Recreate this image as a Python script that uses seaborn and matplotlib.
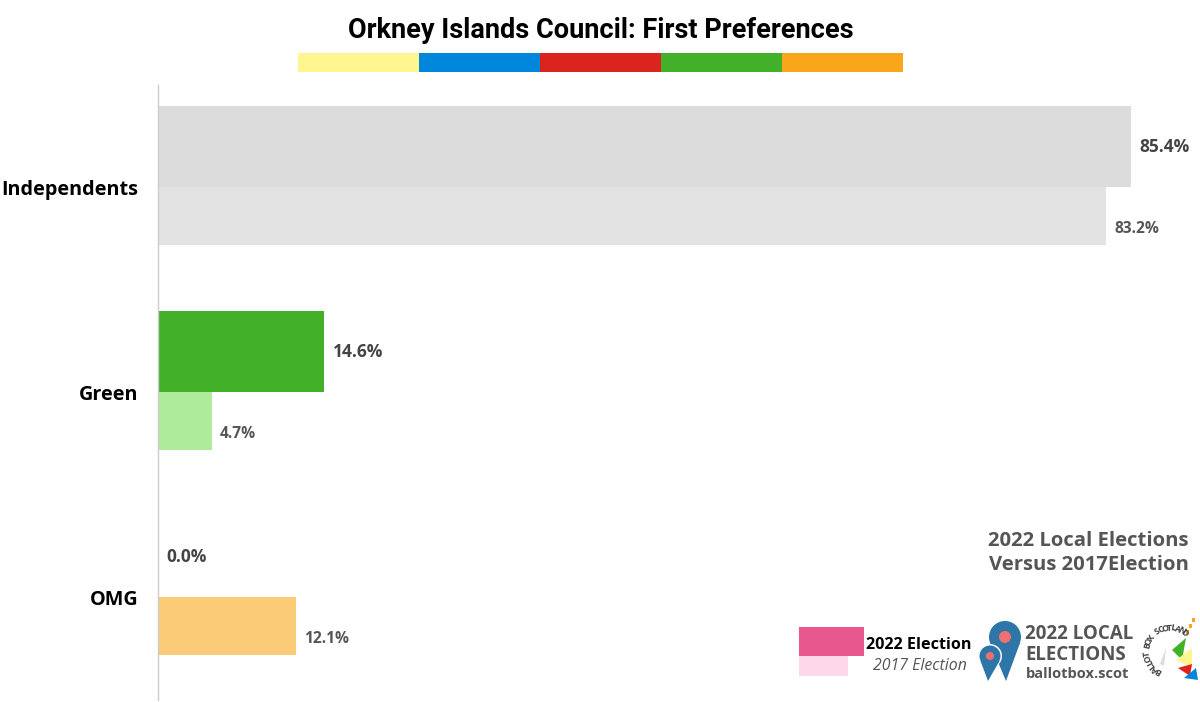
import numpy as np
import pandas as pd
import matplotlib
matplotlib.use("Agg")
import matplotlib.pyplot as plt
import seaborn as sns
from matplotlib.patches import Rectangle, Circle, Polygon

# ---------------- data ----------------
categories = ["Independents", "Green", "OMG"]
votes_2022 = [85.4, 14.6, 0.0]
votes_2017 = [83.2, 4.7, 12.1]
colors_2022 = ["#dcdcdc", "#43b02a", "#faa61a"]
colors_2017 = ["#e3e3e3", "#aeeb9a", "#fccb77"]
strip_colors = ["#fff68f", "#0087dc", "#dc241f", "#43b02a", "#faa61a"]
title = "Orkney Islands Council: First Preferences"

sns.set_theme(style="white")
plt.rcParams['font.family'] = ['Open Sans', 'DejaVu Sans']

W, H = 1200, 702
fig = plt.figure(figsize=(12, 7.02), dpi=100)
fig.patch.set_facecolor("white")
ax = fig.add_axes([158 / W, 1 - 700 / H, (1183 - 158) / W, (700 - 85) / H])

idx = np.arange(len(categories))
pos22 = idx - 0.198
pos17 = idx + 0.141

df22 = pd.DataFrame({"party": categories, "share": votes_2022, "pos": pos22})
df17 = pd.DataFrame({"party": categories, "share": votes_2017, "pos": pos17})

sns.barplot(data=df22, x="share", y="pos", hue="party",
            palette=dict(zip(categories, colors_2022)), orient="h",
            native_scale=True, width=0.395, dodge=False, legend=False,
            errorbar=None, saturation=1, linewidth=0, ax=ax)
sns.barplot(data=df17, x="share", y="pos", hue="party",
            palette=dict(zip(categories, colors_2017)), orient="h",
            native_scale=True, width=0.283, dodge=False, legend=False,
            errorbar=None, saturation=1, linewidth=0, ax=ax)

ax.set_xlim(0, 90)
ax.set_ylim(2.5, -0.5)
ax.set_xticks([])
ax.set_yticks(idx)
ax.set_yticklabels(categories, fontsize=14.3, fontweight="bold", color="black")
ax.tick_params(axis="y", length=0, pad=14)
ax.set_xlabel("")
ax.set_ylabel("")
for s in ["top", "right", "bottom"]:
    ax.spines[s].set_visible(False)
ax.spines["left"].set_color("#cccccc")
ax.spines["left"].set_linewidth(1)

for v, p in zip(votes_2022, pos22):
    ax.text(v + 0.75, p, f"{v:.1f}%", va="center", ha="left",
            fontsize=12.5, fontweight="bold", color="#444444")
for v, p in zip(votes_2017, pos17):
    ax.text(v + 0.75, p + 0.063, f"{v:.1f}%", va="center", ha="left",
            fontsize=11.2, fontweight="bold", color="#555555")

# ---------------- decorations (overlay in pixel coords) ----------------
ov = fig.add_axes([0, 0, 1, 1], zorder=10)
ov.set_xlim(0, W)
ov.set_ylim(H, 0)
ov.axis("off")
ov.patch.set_alpha(0)

ov.text(601, 30, title, ha="center", va="center", fontsize=19.5,
        fontweight="bold", color="black", family=["Roboto", "DejaVu Sans"])
for i, c in enumerate(strip_colors):
    ov.add_patch(Rectangle((298 + i * 121, 53), 121, 19, color=c, lw=0))

ov.text(1189, 541, "2022 Local Elections", ha="right", va="center",
        fontsize=14.6, fontweight="bold", color="#555555")
ov.text(1189, 565, "Versus 2017Election", ha="right", va="center",
        fontsize=14.6, fontweight="bold", color="#555555")

# legend
ov.add_patch(Rectangle((799, 627), 65, 29, color="#e8578d", lw=0))
ov.add_patch(Rectangle((799, 656), 49, 20, color="#fdd8ea", lw=0))
ov.text(866, 645, "2022 Election", ha="left", va="center", fontsize=11.6,
        fontweight="bold", color="black")
ov.text(967, 666, "2017 Election", ha="right", va="center", fontsize=11.4,
        style="italic", color="#555555")

# pins logo
blue = "#2e75a8"
ov.add_patch(Circle((1005, 637), 16, color=blue, lw=0))
ov.add_patch(Polygon([(990, 643), (1020, 643), (1006, 681)], color=blue, lw=0))
ov.add_patch(Circle((990, 656), 12, color="white", lw=0))
ov.add_patch(Circle((990, 656), 10.5, color=blue, lw=0))
ov.add_patch(Polygon([(980.5, 661), (999.5, 661), (988, 681)], color=blue, lw=0))
ov.add_patch(Circle((1005, 637), 6, color="#f07070", lw=0))
ov.add_patch(Circle((990, 656), 4, color="#f07070", lw=0))
ov.text(1025, 634, "2022 LOCAL", ha="left", va="center", fontsize=13.5,
        fontweight="bold", color="#555555")
ov.text(1025, 655, "ELECTIONS", ha="left", va="center", fontsize=13.5,
        fontweight="bold", color="#555555")
ov.text(1026, 674, "ballotbox.scot", ha="left", va="center", fontsize=10.5,
        fontweight="bold", color="#555555")

# circular ballot box logo
cx, cy, r = 1170, 651, 23
txt = "BALLOT BOX SCOTLAND"
angs = np.linspace(240, 50, len(txt))
for ch, a in zip(txt, angs):
    rad = np.deg2rad(a)
    x = cx + r * np.cos(rad)
    y = cy - r * np.sin(rad)
    ov.text(x, y, ch, ha="center", va="center", fontsize=6.3,
            fontweight="bold", color="#444444", rotation=a - 90)
ov.add_patch(Polygon([(1172, 650), (1186, 638), (1182, 660)], color="#43b02a", lw=0))
ov.add_patch(Polygon([(1176, 660), (1192, 648), (1192, 668)], color="#fff68f", lw=0))
ov.add_patch(Polygon([(1178, 668), (1192, 664), (1190, 676)], color="#dc241f", lw=0))
ov.add_patch(Polygon([(1184, 678), (1196, 668), (1198, 680)], color="#0087dc", lw=0))
ov.add_patch(Polygon([(1160, 664), (1166, 648), (1164, 666)], color="#dddddd", lw=0))
for k in range(3):
    ov.add_patch(Rectangle((1186 + k * 3, 630 - k * 6), 2.5, 4, color="#faa61a", lw=0))

fig.savefig("out.png", dpi=100, facecolor="white")
